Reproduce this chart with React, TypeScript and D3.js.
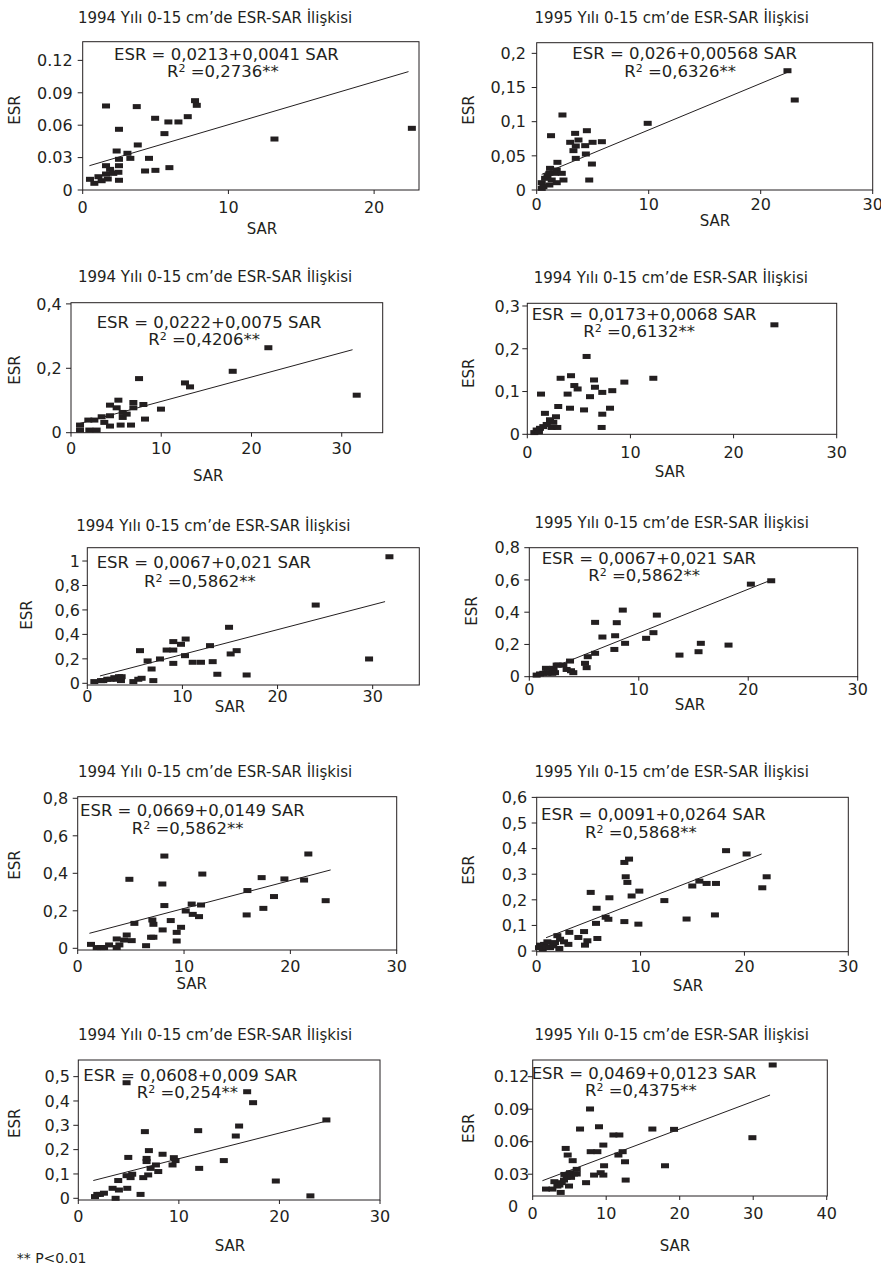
import React from 'react';
import * as d3 from 'd3';

// panel titles, equations and R² values as printed
const titles = [
  '1994 Yılı 0-15 cm’de ESR-SAR İlişkisi',
  '1995 Yılı 0-15 cm’de ESR-SAR İlişkisi',
  '1994 Yılı 0-15 cm’de ESR-SAR İlişkisi',
  '1994 Yılı 0-15 cm’de ESR-SAR İlişkisi',
  '1994 Yılı 0-15 cm’de ESR-SAR İlişkisi',
  '1995 Yılı 0-15 cm’de ESR-SAR İlişkisi',
  '1994 Yılı 0-15 cm’de ESR-SAR İlişkisi',
  '1995 Yılı 0-15 cm’de ESR-SAR İlişkisi',
  '1994 Yılı 0-15 cm’de ESR-SAR İlişkisi',
  '1995 Yılı 0-15 cm’de ESR-SAR İlişkisi',
];
const equations = [
  'ESR = 0,0213+0,0041 SAR',
  'ESR = 0,026+0,00568 SAR',
  'ESR = 0,0222+0,0075 SAR',
  'ESR = 0,0173+0,0068 SAR',
  'ESR = 0,0067+0,021 SAR',
  'ESR = 0,0067+0,021 SAR',
  'ESR = 0,0669+0,0149 SAR',
  'ESR = 0,0091+0,0264 SAR',
  'ESR = 0,0608+0,009 SAR',
  'ESR = 0,0469+0,0123 SAR',
];
const r2Values = ['0,2736', '0,6326', '0,4206', '0,6132', '0,5862', '0,5862', '0,5862', '0,5868', '0,254', '0,4375'];

// tick values
const yTicks = [
  [0, 0.03, 0.06, 0.09, 0.12],
  [0, 0.05, 0.1, 0.15, 0.2],
  [0, 0.2, 0.4],
  [0, 0.1, 0.2, 0.3],
  [0, 0.2, 0.4, 0.6, 0.8, 1],
  [0, 0.2, 0.4, 0.6, 0.8],
  [0, 0.2, 0.4, 0.6, 0.8],
  [0, 0.1, 0.2, 0.3, 0.4, 0.5, 0.6],
  [0, 0.1, 0.2, 0.3, 0.4, 0.5],
  [0, 0.03, 0.06, 0.09, 0.12],
];
const xTicks = [
  [0, 10, 20],
  [0, 10, 20, 30],
  [0, 10, 20, 30],
  [0, 10, 20, 30],
  [0, 10, 20, 30],
  [0, 10, 20, 30],
  [0, 10, 20, 30],
  [0, 10, 20, 30],
  [0, 10, 20, 30],
  [0, 10, 20, 30, 40],
];
const decimalDot = [true, false, false, false, false, false, false, false, false, true];

// scatter values (SAR, ESR)
const p1Sar = [0.5, 0.8, 1.08, 1.3, 1.6, 1.6, 1.6, 1.72, 1.88, 2.1, 2.33, 2.49, 2.49, 2.49, 2.45, 2.49, 3.07, 3.27, 3.71, 3.78, 4.28, 4.55, 4.97, 4.99, 5.61, 5.88, 5.95, 6.57, 7.21, 7.71, 7.83, 13.16, 22.59];
const p1Esr = [0.0099, 0.0062, 0.0123, 0.0086, 0.0778, 0.0225, 0.0148, 0.0102, 0.0191, 0.0154, 0.0361, 0.0562, 0.0284, 0.0225, 0.0164, 0.009, 0.034, 0.0293, 0.0772, 0.0417, 0.0176, 0.0293, 0.0664, 0.0182, 0.0522, 0.063, 0.0207, 0.063, 0.0679, 0.0827, 0.0784, 0.0472, 0.0571];
const p1Fit = [0.46, 0.0225, 22.36, 0.1096];

const p2Sar = [0.45, 0.45, 0.6, 0.75, 0.96, 1.13, 1.19, 1.28, 1.13, 1.34, 1.64, 1.79, 1.85, 1.79, 2.24, 2.39, 2.3, 2.99, 3.28, 3.43, 3.49, 3.49, 3.73, 4.33, 4.48, 4.39, 4.69, 4.93, 4.99, 5.82, 9.91, 22.39, 23.04];
const p2Esr = [0.0107, 0.0024, 0.0049, 0.0171, 0.021, 0.0073, 0.0317, 0.0795, 0.0244, 0.0146, 0.0244, 0.0107, 0.0405, 0.0293, 0.0244, 0.0146, 0.1098, 0.0698, 0.0576, 0.0829, 0.0644, 0.0463, 0.0732, 0.0649, 0.0868, 0.0527, 0.0146, 0.038, 0.0698, 0.0707, 0.0976, 0.1746, 0.1317];
const p2Fit = [0.45, 0.0229, 22.39, 0.1722];

const p3Sar = [1.0, 1.0, 1.92, 2.03, 2.59, 2.84, 3.4, 3.69, 4.32, 4.32, 4.32, 5.06, 5.25, 5.5, 5.73, 5.73, 6.17, 6.65, 6.91, 6.91, 7.54, 8.02, 8.2, 9.97, 12.63, 13.19, 17.92, 21.87, 31.66];
const p3Esr = [0.0237, 0.0082, 0.0392, 0.0082, 0.0392, 0.0082, 0.0495, 0.032, 0.0856, 0.0526, 0.0206, 0.0773, 0.101, 0.0237, 0.0629, 0.0474, 0.0577, 0.0237, 0.0938, 0.0773, 0.168, 0.0876, 0.0423, 0.0732, 0.1546, 0.1423, 0.1907, 0.2639, 0.1165];
const p3Fit = [1.0, 0.0289, 31.2, 0.2577];

const p4Sar = [0.68, 0.91, 1.13, 1.23, 1.33, 1.55, 1.71, 1.88, 2.2, 2.36, 2.52, 2.78, 2.91, 3.0, 3.23, 3.91, 4.14, 4.24, 4.56, 4.88, 5.5, 5.75, 6.08, 6.47, 6.56, 7.27, 7.27, 7.21, 8.02, 8.24, 9.41, 12.22, 23.96];
const p4Esr = [0.004, 0.01, 0.006, 0.014, 0.094, 0.018, 0.049, 0.023, 0.034, 0.016, 0.028, 0.041, 0.016, 0.065, 0.131, 0.094, 0.061, 0.137, 0.114, 0.106, 0.057, 0.182, 0.088, 0.127, 0.11, 0.098, 0.047, 0.016, 0.061, 0.102, 0.122, 0.131, 0.256];
const p4Fit: number[] = [];

const p5Sar = [0.74, 1.44, 1.68, 2.1, 2.45, 2.84, 3.08, 3.33, 3.54, 3.61, 4.84, 5.36, 5.71, 5.54, 6.34, 6.76, 6.94, 7.64, 8.34, 9.04, 9.04, 9.04, 9.85, 10.34, 10.27, 11.08, 11.95, 12.9, 13.18, 13.67, 14.9, 15.07, 15.7, 16.75, 24.01, 29.62, 31.76];
const p5Esr = [0.014, 0.022, 0.022, 0.033, 0.033, 0.046, 0.033, 0.054, 0.022, 0.054, 0.014, 0.033, 0.041, 0.267, 0.183, 0.117, 0.022, 0.199, 0.272, 0.341, 0.272, 0.163, 0.319, 0.362, 0.226, 0.172, 0.172, 0.308, 0.177, 0.074, 0.458, 0.24, 0.267, 0.068, 0.64, 0.199, 1.035];
const p5Fit = [1.33, 0.06, 31.3, 0.668];

const p6Sar = [0.67, 0.98, 1.28, 1.52, 1.65, 1.89, 2.1, 2.2, 2.2, 2.35, 2.5, 2.65, 3.11, 3.41, 3.72, 3.81, 4.02, 5.09, 5.24, 5.34, 6.01, 6.01, 6.68, 7.84, 7.77, 7.99, 8.54, 8.75, 10.67, 11.34, 11.65, 13.72, 15.46, 15.67, 18.2, 20.24, 22.1];
const p6Esr = [0.01, 0.017, 0.021, 0.052, 0.021, 0.025, 0.021, 0.052, 0.037, 0.025, 0.072, 0.072, 0.072, 0.045, 0.097, 0.037, 0.025, 0.083, 0.056, 0.124, 0.145, 0.337, 0.246, 0.254, 0.169, 0.335, 0.413, 0.207, 0.238, 0.273, 0.382, 0.134, 0.155, 0.207, 0.196, 0.574, 0.595];
const p6Fit = [0.52, 0.014, 21.86, 0.593];

const p7Sar = [1.25, 1.79, 2.19, 2.48, 2.95, 3.67, 3.67, 3.92, 4.36, 4.61, 4.86, 5.08, 5.33, 6.43, 6.9, 7.12, 7.02, 7.12, 7.96, 8.15, 8.15, 7.99, 8.75, 9.31, 9.31, 9.72, 10.16, 10.72, 10.82, 11.41, 11.6, 11.72, 15.89, 15.96, 17.3, 17.46, 18.46, 19.44, 21.29, 21.69, 23.32];
const p7Esr = [0.021, 0.004, 0.004, 0.004, 0.018, 0.004, 0.05, 0.018, 0.044, 0.071, 0.368, 0.041, 0.133, 0.014, 0.059, 0.059, 0.151, 0.128, 0.343, 0.492, 0.228, 0.098, 0.148, 0.039, 0.085, 0.112, 0.199, 0.236, 0.181, 0.169, 0.231, 0.396, 0.178, 0.308, 0.377, 0.213, 0.276, 0.37, 0.364, 0.503, 0.254];
const p7Fit = [1.1, 0.08, 23.79, 0.418];

const p8Sar = [0.22, 0.32, 0.58, 0.71, 0.9, 1.03, 1.28, 1.6, 1.76, 1.99, 2.18, 2.25, 2.63, 3.05, 3.14, 4.01, 4.56, 4.65, 4.88, 5.2, 5.77, 5.71, 5.84, 6.64, 6.9, 7.0, 8.44, 8.57, 8.73, 8.89, 8.44, 9.14, 9.88, 9.79, 12.29, 14.43, 14.98, 15.66, 16.36, 17.16, 17.26, 18.23, 20.21, 21.72, 22.14];
const p8Esr = [0.013, 0.023, 0.008, 0.026, 0.017, 0.036, 0.013, 0.02, 0.033, 0.06, 0.01, 0.046, 0.036, 0.026, 0.073, 0.053, 0.076, 0.023, 0.04, 0.229, 0.167, 0.108, 0.049, 0.132, 0.124, 0.208, 0.346, 0.29, 0.268, 0.359, 0.115, 0.215, 0.234, 0.105, 0.197, 0.125, 0.254, 0.273, 0.264, 0.141, 0.264, 0.392, 0.379, 0.247, 0.29];
const p8Fit = [0.9, 0.052, 21.66, 0.379];

const p9Sar = [1.66, 1.89, 2.15, 2.55, 3.41, 3.71, 3.97, 4.04, 4.8, 4.97, 4.8, 4.87, 5.2, 5.36, 6.19, 6.46, 6.62, 6.79, 6.79, 6.95, 7.02, 7.19, 7.72, 7.95, 8.38, 9.37, 9.5, 9.67, 11.92, 12.02, 14.47, 15.66, 15.99, 16.79, 17.38, 19.64, 23.08, 24.67];
const p9Esr = [0.007, 0.016, 0.016, 0.021, 0.041, 0.0, 0.073, 0.034, 0.475, 0.168, 0.093, 0.041, 0.085, 0.099, 0.016, 0.085, 0.274, 0.151, 0.164, 0.096, 0.196, 0.123, 0.137, 0.11, 0.181, 0.137, 0.167, 0.155, 0.278, 0.123, 0.155, 0.256, 0.297, 0.438, 0.393, 0.071, 0.01, 0.322];
const p9Fit = [1.49, 0.073, 24.83, 0.319];

const p10Sar = [1.81, 2.68, 2.95, 3.36, 3.63, 3.81, 3.95, 4.26, 4.49, 4.31, 4.63, 4.76, 4.94, 5.08, 5.22, 5.44, 5.62, 5.99, 5.99, 6.44, 7.26, 7.8, 7.89, 8.35, 8.8, 9.02, 9.25, 9.61, 9.61, 9.71, 10.98, 11.79, 11.66, 12.24, 12.56, 12.65, 16.28, 18.0, 19.23, 29.89, 32.65];
const p10Esr = [0.0163, 0.0163, 0.0231, 0.0191, 0.02, 0.0132, 0.0222, 0.0246, 0.0538, 0.0298, 0.0271, 0.0477, 0.0191, 0.0314, 0.0271, 0.0425, 0.0302, 0.0345, 0.0302, 0.0717, 0.0222, 0.0902, 0.0508, 0.0292, 0.0508, 0.0738, 0.0314, 0.0292, 0.0569, 0.0378, 0.0662, 0.0662, 0.0477, 0.0508, 0.0415, 0.0246, 0.0717, 0.0378, 0.0714, 0.0637, 0.1308];
const p10Fit = [1.32, 0.024, 32.29, 0.1031];

const sarSets = [p1Sar, p2Sar, p3Sar, p4Sar, p5Sar, p6Sar, p7Sar, p8Sar, p9Sar, p10Sar];
const esrSets = [p1Esr, p2Esr, p3Esr, p4Esr, p5Esr, p6Esr, p7Esr, p8Esr, p9Esr, p10Esr];
const fitSets = [p1Fit, p2Fit, p3Fit, p4Fit, p5Fit, p6Fit, p7Fit, p8Fit, p9Fit, p10Fit];

// layout of each panel on the page (pixels) and its axis ranges
const layout = [
  { box: [82.7, 41.7, 419, 190], xd: [0, 23.08], yd: [0, 0.1373], title: [215, 22.7], eq: [114, 60], r2: [167, 77], ylab: [15, 110], xlab: [262, 234], xOff: 17.3, gap: 10 },
  { box: [536.7, 42.7, 872.7, 190], xd: [0, 30], yd: [0, 0.2156], title: [671.7, 22.7], eq: [572.3, 59], r2: [624.3, 77], ylab: [468.3, 110], xlab: [715, 226], xOff: 14, gap: 10.7 },
  { box: [71, 302.7, 382.7, 432.7], xd: [0, 34.54], yd: [0, 0.4037], title: [215, 281.7], eq: [96.7, 327.5], r2: [148.3, 345], ylab: [15, 370], xlab: [208.3, 481], xOff: 15.6, gap: 9.3 },
  { box: [527.3, 303.3, 836.7, 434.3], xd: [0, 30], yd: [0, 0.3063], title: [670.8, 282.7], eq: [531.7, 320], r2: [583.3, 337], ylab: [468.3, 373.3], xlab: [670, 476.5], xOff: 18.4, gap: 7.3 },
  { box: [87.3, 547.7, 419.3, 685], xd: [0, 34.9], yd: [-0.0139, 1.109], title: [213.3, 531], eq: [96.7, 567.5], r2: [144, 587], ylab: [26.7, 615], xlab: [230, 712], xOff: 11.7, gap: 7.3 },
  { box: [529.3, 547.7, 857.7, 676.7], xd: [0, 30], yd: [0, 0.8], title: [671.7, 527.7], eq: [541.7, 563.5], r2: [588.3, 581], ylab: [471.7, 611], xlab: [690, 710], xOff: 12.3, gap: 9.3 },
  { box: [77.7, 796.7, 396.7, 950], xd: [0, 30], yd: [-0.009, 0.8085], title: [215, 776.7], eq: [80, 815.7], r2: [131.7, 833.5], ylab: [15, 865], xlab: [191.7, 989], xOff: 16.7, gap: 9.4 },
  { box: [536.7, 797.3, 848.3, 951.7], xd: [0, 30], yd: [-0.0026, 0.6004], title: [671.7, 776.7], eq: [541, 820], r2: [585, 837.5], ylab: [468.3, 870], xlab: [688, 991], xOff: 15, gap: 9.4 },
  { box: [78.3, 1060, 380, 1200], xd: [0, 30], yd: [-0.007, 0.5684], title: [215, 1040], eq: [83.3, 1081], r2: [136.7, 1098], ylab: [15, 1123.3], xlab: [230, 1251], xOff: 16.7, gap: 8.3 },
  { box: [532.7, 1060, 827.3, 1196], xd: [0, 40.08], yd: [0.0099, 0.1354], title: [671.7, 1040], eq: [531.7, 1079], r2: [585, 1096], ylab: [468.3, 1128.3], xlab: [675, 1251], xOff: 17.3, gap: 3.4, zeroDx: -11 },
];

const ink = '#231f20';
const font = '"DejaVu Sans", Verdana, sans-serif';

function fmt(v: number, dot: boolean) {
  const s = String(+v.toFixed(3));
  return dot ? s : s.replace('.', ',');
}

function Panel({ i }: { i: number }) {
  const L = layout[i] as any;
  const [x0, y0, x1, y1] = L.box;
  const x = d3.scaleLinear().domain(L.xd).range([x0, x1]);
  const y = d3.scaleLinear().domain(L.yd).range([y1, y0]);
  const sar = sarSets[i];
  const esr = esrSets[i];
  const fit = fitSets[i];
  const line = d3.line<[number, number]>().x((d) => x(d[0])).y((d) => y(d[1]));

  return (
    <g fontFamily={font} fill={ink}>
      <text x={L.title[0]} y={L.title[1]} textAnchor="middle" fontSize={15}>
        {titles[i]}
      </text>
      <rect x={x0} y={y0} width={x1 - x0} height={y1 - y0} fill="none" stroke={ink} strokeWidth={1} />
      {yTicks[i].map((v) => {
        const yy = y(v);
        const inside = yy >= y0 - 0.5 && yy <= y1 + 0.5;
        const dx = v === 0 && L.zeroDx ? L.zeroDx : 0;
        return (
          <g key={'y' + v}>
            {inside && <line x1={x0 - 5} x2={x0} y1={yy} y2={yy} stroke={ink} />}
            <text x={x0 - L.gap + dx} y={yy} dy="0.36em" textAnchor="end" fontSize={16}>
              {fmt(v, decimalDot[i])}
            </text>
          </g>
        );
      })}
      {xTicks[i].map((v) => (
        <g key={'x' + v}>
          <line x1={x(v)} x2={x(v)} y1={y1} y2={y1 + 4} stroke={ink} />
          <text x={x(v)} y={y1 + L.xOff} dy="0.36em" textAnchor="middle" fontSize={16}>
            {v}
          </text>
        </g>
      ))}
      <text
        transform={`translate(${L.ylab[0]},${L.ylab[1]}) rotate(-90)`}
        dy="0.36em"
        textAnchor="middle"
        fontSize={15}
      >
        ESR
      </text>
      <text x={L.xlab[0]} y={L.xlab[1]} textAnchor="middle" fontSize={15}>
        SAR
      </text>
      {fit.length === 4 && (
        <path
          d={line([[fit[0], fit[1]], [fit[2], fit[3]]]) || ''}
          fill="none"
          stroke={ink}
          strokeWidth={1}
        />
      )}
      {sar.map((s, k) => (
        <rect key={k} x={x(s) - 4} y={y(esr[k]) - 2.5} width={8} height={5} fill={ink} />
      ))}
      <text x={L.eq[0]} y={L.eq[1]} fontSize={16.5}>
        {equations[i]}
      </text>
      <text x={L.r2[0]} y={L.r2[1]} fontSize={16.5}>
        R
        <tspan fontSize={11} dy={-5}>2</tspan>
        <tspan dy={5}>{' =' + r2Values[i] + '**'}</tspan>
      </text>
    </g>
  );
}

export default function App() {
  return (
    <svg
      width={881}
      height={1268}
      style={{ position: 'absolute', left: 0, top: 0, background: '#fff' }}
    >
      <rect width={881} height={1268} fill="#fff" />
      {titles.map((_, i) => (
        <Panel key={i} i={i} />
      ))}
      <text x={16.7} y={1263} fontFamily={font} fontSize={14} fill={ink}>
        ** P&lt;0.01
      </text>
    </svg>
  );
}
